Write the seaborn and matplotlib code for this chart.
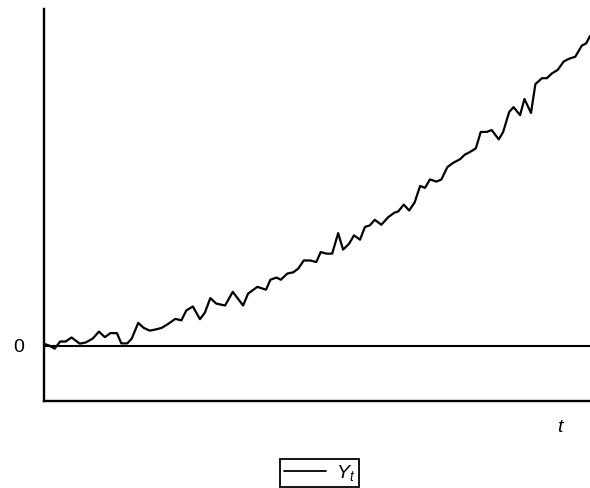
import pandas as pd
import numpy as np
import seaborn as sns
import matplotlib.pyplot as plt

# time positions and values
t = [0.0, 1.0, 2.0, 3.0, 4.0, 5.1, 6.6, 7.7, 9.0, 10.1,
     11.2, 12.2, 13.4, 14.2, 15.3, 16.1, 17.3, 18.3, 19.4, 20.3,
     21.6, 22.8, 24.1, 25.2, 26.1, 27.3, 28.6, 29.5, 30.5, 31.6,
     33.2, 34.6, 36.5, 37.4, 39.1, 40.7, 41.5, 42.6, 43.4, 44.6,
     45.7, 46.6, 47.6, 48.8, 49.9, 50.7, 51.8, 52.8, 53.9, 54.8,
     55.9, 56.8, 57.9, 58.8, 59.7, 60.6, 61.8, 63.1, 64.2, 64.9,
     65.9, 66.9, 67.9, 68.9, 69.8, 70.7, 71.9, 72.8, 73.9, 75.0,
     76.2, 77.1, 78.0, 79.1, 80.0, 81.1, 82.0, 83.3, 84.1, 85.2,
     86.0, 87.2, 88.0, 89.2, 90.0, 91.2, 92.1, 93.0, 94.1, 95.2,
     96.2, 97.3, 98.5, 99.3, 100.0]
y_t = [0.6, 0.0, -1.0, 1.3, 1.3, 2.6, 0.6, 1.0, 2.3, 4.5,
       2.7, 4.0, 4.0, 0.7, 0.7, 2.2, 7.3, 5.7, 4.8, 5.1,
       5.7, 7.0, 8.6, 8.1, 11.3, 12.6, 8.5, 10.6, 15.3, 13.5,
       12.9, 17.3, 12.9, 16.7, 18.9, 18.0, 21.2, 21.9, 21.2, 23.2,
       23.6, 24.8, 27.4, 27.4, 26.9, 30.1, 29.6, 29.6, 36.2, 30.9,
       32.8, 35.5, 34.1, 38.2, 38.7, 40.5, 38.9, 41.4, 42.8, 43.2,
       45.4, 43.5, 46.1, 51.4, 50.8, 53.5, 52.8, 53.5, 57.5, 58.9,
       60.0, 61.5, 62.3, 63.5, 68.8, 68.8, 69.4, 66.4, 68.8, 75.2,
       76.8, 74.2, 79.4, 74.9, 84.2, 86.1, 86.1, 87.6, 88.8, 91.5,
       92.4, 93.0, 96.6, 97.3, 99.7]

df = pd.DataFrame({'t': t, 'Y': y_t})

sns.set_style('white')
plt.rcParams['font.family'] = ['Liberation Sans', 'DejaVu Sans']
plt.rcParams['mathtext.fontset'] = 'custom'
plt.rcParams['mathtext.rm'] = 'Liberation Sans'
plt.rcParams['mathtext.it'] = 'Liberation Sans:italic'
plt.rcParams['text.color'] = 'black'
plt.rcParams['ytick.color'] = 'black'
plt.rcParams['xtick.color'] = 'black'

fig = plt.figure(figsize=(5.9, 4.88), dpi=100)
ax = fig.add_axes([0.0741, 0.178, 0.9259, 0.803])

sns.lineplot(ax=ax, data=df, x='t', y='Y', color='black', linewidth=1.6,
             label='$Y_t$', legend=False)
ax.axhline(0, color='black', linewidth=1.5, zorder=1)

ax.set_xlim(0, 100)
ax.set_ylim(-17.9, 108.3)
ax.set_xticks([])
ax.set_yticks([0])
ax.set_yticklabels(['0'], fontsize=14, color='black')
ax.tick_params(axis='y', length=0, pad=14)

for side in ['top', 'right']:
    ax.spines[side].set_visible(False)
for side in ['left', 'bottom']:
    ax.spines[side].set_color('black')
    ax.spines[side].set_linewidth(1.7)

ax.set_xlabel('')
ax.set_ylabel('')
fig.text(561 / 590, 1 - 427 / 488, '$t$', fontsize=14, color='black',
         ha='center', va='center')

handles, labels = ax.get_legend_handles_labels()
leg = fig.legend(handles, labels, loc='upper center', bbox_to_anchor=(0.5415, 1 - 459 / 488),
                 fontsize=14, frameon=True, fancybox=False, edgecolor='black',
                 framealpha=1, borderpad=0.2, handlelength=2.2, handletextpad=0.5,
                 borderaxespad=0)
leg.get_frame().set_linewidth(1.3)
for line in leg.get_lines():
    line.set_linewidth(1.3)
for txt in leg.get_texts():
    txt.set_color('black')

plt.savefig('out.png', dpi=100)
plt.close()
